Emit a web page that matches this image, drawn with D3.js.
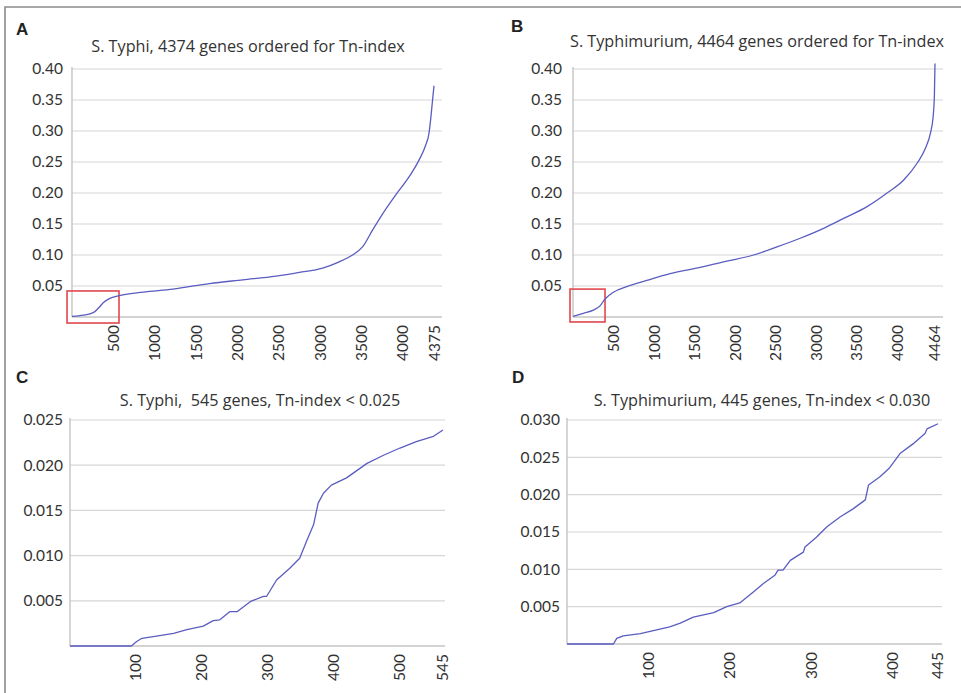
<!DOCTYPE html>
<html>
<head>
<meta charset="utf-8">
<script src="https://cdn.jsdelivr.net/npm/d3@7"></script>
<style>
  html, body { margin: 0; padding: 0; background: #fff; }
  svg { display: block; }
  text { font-family: Lato, "Open Sans", sans-serif; fill: #333; }
  text.title { font-family: "Open Sans", Lato, sans-serif; font-size: 16.2px; white-space: pre; fill: #333; }
  text.letter { font-family: "Liberation Sans", Arial, sans-serif; font-size: 17px; font-weight: bold; fill: #222; }
</style>
</head>
<body>
<svg id="chart" width="961" height="693"></svg>
<script>
// ---------- data ----------
const titleA = "S. Typhi, 4374 genes ordered for Tn-index";
const titleB = "S. Typhimurium, 4464 genes ordered for Tn-index";
const titleC = "S. Typhi,  545 genes, Tn-index < 0.025";
const titleD = "S. Typhimurium, 445 genes, Tn-index < 0.030";

const aIdx = [0, 136, 257, 317, 377, 458, 558, 859, 1220, 1663, 2064, 2466, 2747, 3028, 3229, 3390, 3510, 3631, 3771, 3912, 4072, 4193, 4273, 4313, 4333, 4353, 4374];
const aVal = [0.001, 0.003, 0.007, 0.014, 0.023, 0.030, 0.034, 0.040, 0.045, 0.054, 0.060, 0.066, 0.072, 0.079, 0.089, 0.100, 0.113, 0.140, 0.170, 0.197, 0.226, 0.253, 0.277, 0.296, 0.318, 0.345, 0.373];

const bIdx = [0, 127, 251, 333, 395, 498, 663, 910, 1198, 1568, 1898, 2226, 2515, 2802, 3090, 3337, 3626, 3873, 4078, 4243, 4346, 4407, 4441, 4457, 4464];
const bVal = [0.001, 0.006, 0.011, 0.018, 0.029, 0.040, 0.049, 0.059, 0.070, 0.080, 0.090, 0.100, 0.113, 0.127, 0.143, 0.159, 0.178, 0.200, 0.221, 0.248, 0.272, 0.296, 0.323, 0.360, 0.409];

const cIdx = [0, 93, 101, 109, 131, 157, 177, 202, 217, 227, 242, 253, 273, 293, 298, 313, 333, 348, 359, 369, 376, 384, 396, 419, 450, 475, 500, 517, 535, 545];
const cVal = [0, 0, 0.0005, 0.00085, 0.0011, 0.0014, 0.0018, 0.0022, 0.0028, 0.0029, 0.0038, 0.0038, 0.0049, 0.0055, 0.0055, 0.0073, 0.0086, 0.0097, 0.0117, 0.0134, 0.0158, 0.0169, 0.0178, 0.0186, 0.0202, 0.0211, 0.0219, 0.0226, 0.0232, 0.0239];

const dIdx = [0, 57, 61, 69, 90, 110, 126, 139, 155, 180, 196, 212, 229, 241, 255, 259, 265, 274, 290, 292, 306, 319, 335, 351, 366, 370, 384, 395, 407, 420, 432, 434, 445];
const dVal = [0, 0, 0.00076, 0.0011, 0.0014, 0.0019, 0.0023, 0.0028, 0.0036, 0.0042, 0.0050, 0.0055, 0.0070, 0.0081, 0.0092, 0.0099, 0.0099, 0.0112, 0.0123, 0.0130, 0.0143, 0.0157, 0.0170, 0.0181, 0.0193, 0.0213, 0.0224, 0.0235, 0.0255, 0.0268, 0.0282, 0.0288, 0.0295];

const aXTicks = [500, 1000, 1500, 2000, 2500, 3000, 3500, 4000, 4375];
const bXTicks = [500, 1000, 1500, 2000, 2500, 3000, 3500, 4000, 4464];
const cXTicks = [100, 200, 300, 400, 500, 545];
const dXTicks = [100, 200, 300, 400, 445];
const abYTicks = [0.05, 0.10, 0.15, 0.20, 0.25, 0.30, 0.35, 0.40];
const cYTicks = [0.005, 0.010, 0.015, 0.020, 0.025];
const dYTicks = [0.005, 0.010, 0.015, 0.020, 0.025, 0.030];

// zoom boxes (index from, index to, value low, value high)
const aBox = [-60, 568, -0.0097, 0.042];
const bBox = [-37, 395, -0.008, 0.045];

// ---------- layout ----------
const panels = [
  { letter: "A", title: titleA, idx: aIdx, val: aVal, xTicks: aXTicks, yTicks: abYTicks, yFmt: ".2f",
    xDomain: [0, 4374], xRange: [72, 434], plotRight: 442, yDomain: [0, 0.40], yRange: [317, 69],
    box: aBox, curve: d3.curveMonotoneX, titleX: 248, titleY: 52, letterX: 16, letterY: 35, yLabGap: 9 },
  { letter: "B", title: titleB, idx: bIdx, val: bVal, xTicks: bXTicks, yTicks: abYTicks, yFmt: ".2f",
    xDomain: [0, 4464], xRange: [573, 935], plotRight: 943, yDomain: [0, 0.40], yRange: [317, 69],
    box: bBox, curve: d3.curveMonotoneX, titleX: 757, titleY: 47, letterX: 511, letterY: 32, yLabGap: 11 },
  { letter: "C", title: titleC, idx: cIdx, val: cVal, xTicks: cXTicks, yTicks: cYTicks, yFmt: ".3f",
    xDomain: [0, 500, 545], xRange: [70, 400, 443], plotRight: 445, yDomain: [0, 0.025], yRange: [646, 420],
    box: null, curve: d3.curveLinear, titleX: 260, titleY: 406, letterX: 16, letterY: 383, yLabGap: 7 },
  { letter: "D", title: titleD, idx: dIdx, val: dVal, xTicks: dXTicks, yTicks: dYTicks, yFmt: ".3f",
    xDomain: [0, 400, 445], xRange: [567, 893, 938], plotRight: 942, yDomain: [0, 0.030], yRange: [644, 420],
    box: null, curve: d3.curveLinear, titleX: 762, titleY: 406, letterX: 512, letterY: 383, yLabGap: 7 }
];

const svg = d3.select("#chart");
svg.append("rect").attr("width", 961).attr("height", 693).attr("fill", "#fff");

// figure border (top + left)
svg.append("path").attr("d", "M5,693 L5,7 L961,7").attr("fill", "none")
  .attr("stroke", "#8a8a8a").attr("stroke-width", 1.6);

panels.forEach(p => {
  const x = d3.scaleLinear().domain(p.xDomain).range(p.xRange);
  const y = d3.scaleLinear().domain(p.yDomain).range(p.yRange);
  const x0 = p.xRange[0];
  const g = svg.append("g");

  // gridlines
  g.selectAll("line.grid").data(p.yTicks).enter().append("line")
    .attr("x1", x0).attr("x2", p.plotRight)
    .attr("y1", d => y(d)).attr("y2", d => y(d))
    .attr("stroke", "#d6d6d6").attr("stroke-width", 1.2);

  // baseline and left axis
  g.append("line").attr("x1", x0).attr("x2", p.plotRight)
    .attr("y1", y(0)).attr("y2", y(0)).attr("stroke", "#c4c4c4").attr("stroke-width", 1.4);
  g.append("line").attr("x1", x0).attr("x2", x0)
    .attr("y1", y(0)).attr("y2", y(p.yDomain[1]) - 2).attr("stroke", "#c4c4c4").attr("stroke-width", 1.4);

  // y tick labels
  const fmt = d3.format(p.yFmt);
  g.selectAll("text.ytick").data(p.yTicks).enter().append("text")
    .attr("x", x0 - p.yLabGap).attr("y", d => y(d)).attr("dy", "0.35em")
    .attr("text-anchor", "end").attr("font-size", 15.5).text(d => fmt(d));

  // x tick labels (rotated)
  g.selectAll("text.xtick").data(p.xTicks).enter().append("text")
    .attr("transform", d => `translate(${x(d)},${y(0) + 8}) rotate(-90)`)
    .attr("dy", "0.35em").attr("text-anchor", "end").attr("font-size", 15.5)
    .text(d => d);

  // zoom box
  if (p.box) {
    g.append("rect")
      .attr("x", x(p.box[0])).attr("y", y(p.box[3]))
      .attr("width", x(p.box[1]) - x(p.box[0])).attr("height", y(p.box[2]) - y(p.box[3]))
      .attr("fill", "none").attr("stroke", "#e0474c").attr("stroke-width", 1.6);
  }

  // line
  const pts = p.idx.map((d, i) => [d, p.val[i]]);
  const line = d3.line().x(d => x(d[0])).y(d => y(d[1])).curve(p.curve);
  g.append("path").datum(pts).attr("d", line)
    .attr("fill", "none").attr("stroke", "#5a5cc0").attr("stroke-width", 1.3)
    .attr("stroke-linejoin", "round");

  // title
  g.append("text").attr("class", "title").attr("x", p.titleX).attr("y", p.titleY)
    .attr("text-anchor", "middle").text(p.title);

  // letter
  g.append("text").attr("class", "letter").attr("x", p.letterX).attr("y", p.letterY)
    .text(p.letter);
});
</script>
</body>
</html>
